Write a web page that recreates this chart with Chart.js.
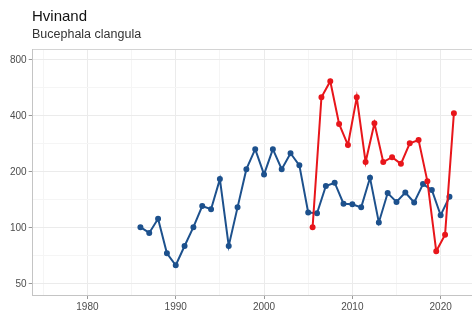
<!DOCTYPE html>
<html>
<head>
<meta charset="utf-8">
<script src="https://cdn.jsdelivr.net/npm/chart.js@4"></script>
<style>
  html, body { margin: 0; background: #fff; overflow: hidden; }
  #wrap { position: relative; width: 472px; height: 316px; overflow: hidden; font-family: "Liberation Sans", Arial, sans-serif; }
  #title { position: absolute; left: 32px; top: 8px; font-size: 15px; line-height: 15px; color: #111; }
  #subtitle { position: absolute; left: 32px; top: 28px; font-size: 12.5px; line-height: 12.5px; color: #333; }
  canvas { position: absolute; left: 0; top: 0; }
</style>
</head>
<body>
<div id="wrap">
  <!-- canvas a bit wider than the window so the panel runs off the right edge like the source -->
  <canvas id="birdChart" width="478" height="316"></canvas>
  <div id="title">Hvinand</div>
  <div id="subtitle">Bucephala clangula</div>
</div>
<script>
// counts per year (blue series)
const blueYears = [1986, 1987, 1988, 1989, 1990, 1991, 1992, 1993, 1994, 1995, 1996, 1997,
  1998, 1999, 2000, 2001, 2002, 2003, 2004, 2005, 2006, 2007, 2008, 2009, 2010, 2011,
  2012, 2013, 2014, 2015, 2016, 2017, 2018, 2019, 2020, 2021];
const blueValues = [101, 94, 112, 73, 63, 80, 101, 131, 126, 183, 80, 129,
  207, 265, 194, 265, 207, 252, 217, 121, 120, 168, 175, 135, 134, 129,
  186, 107, 154, 138, 155, 137, 172, 160, 117, 147];

// red series sits between the years (season counts)
const redYears = [2005.5, 2006.5, 2007.5, 2008.5, 2009.5, 2010.5, 2011.5, 2012.5, 2013.5,
  2014.5, 2015.5, 2016.5, 2017.5, 2018.5, 2019.5, 2020.5, 2021.5];
const redValues = [101, 504, 615, 362, 279, 504, 226, 365, 226,
  240, 221, 285, 297, 178, 75, 92, 414];

const yTickLabels = [50, 100, 200, 400, 800];
const xTickLabels = [1980, 1990, 2000, 2010, 2020];

const blue = '#1d518d';
const red = '#e8161b';

const xMin = 1973.8;
const xMax = 2023.55;

function toPoints(xs, ys) {
  return xs.map((x, i) => ({ x: x, y: ys[i] }));
}

// minor breaks halfway between the major ones
const yTicksAll = [];
yTickLabels.forEach((v, i) => {
  yTicksAll.push({ value: v, major: true });
  if (i < yTickLabels.length - 1) yTicksAll.push({ value: v * Math.SQRT2, major: false });
});
const xTicksAll = [];
xTickLabels.forEach(v => {
  xTicksAll.push({ value: v - 5, major: false });
  xTicksAll.push({ value: v, major: true });
});

const gridColor = c => (c.tick && c.tick.major) ? '#ebebeb' : '#f5f5f5';
const tickColor = c => (c.tick && c.tick.major) ? '#999' : 'rgba(0,0,0,0)';

const ctx = document.getElementById('birdChart').getContext('2d');
const myChart = new Chart(ctx, {
  type: 'line',
  data: {
    datasets: [{
      label: 'red',
      data: toPoints(redYears, redValues),
      borderColor: red,
      backgroundColor: red,
      borderWidth: 2,
      pointRadius: 2,
      tension: 0
    }, {
      label: 'blue',
      data: toPoints(blueYears, blueValues),
      borderColor: blue,
      backgroundColor: blue,
      borderWidth: 2,
      pointRadius: 2,
      tension: 0
    }]
  },
  options: {
    responsive: false,
    animation: false,
    layout: { padding: { top: 49, left: 8, right: 0, bottom: 1 } },
    plugins: {
      legend: { display: false },
      tooltip: { enabled: false }
    },
    scales: {
      x: {
        type: 'linear',
        min: xMin,
        max: xMax,
        afterBuildTicks: scale => { scale.ticks = xTicksAll.map(t => ({ value: t.value, major: t.major })); },
        ticks: {
          autoSkip: false,
          maxRotation: 0,
          padding: 2,
          color: '#4d4d4d',
          font: { family: 'Liberation Sans, Arial', size: 10 },
          callback: (v) => xTickLabels.includes(v) ? String(v) : ''
        },
        grid: { color: gridColor, tickColor: tickColor, tickLength: 4 },
        border: { color: '#c4c4c4', width: 1 }
      },
      xTop: {
        type: 'linear',
        position: 'top',
        min: xMin,
        max: xMax,
        afterBuildTicks: scale => { scale.ticks = []; },
        ticks: { display: false },
        grid: { display: false, drawTicks: false },
        border: { display: true, color: '#d4d4d4', width: 1 }
      },
      y: {
        type: 'logarithmic',
        min: 43.6,
        max: 916,
        afterBuildTicks: scale => { scale.ticks = yTicksAll.map(t => ({ value: t.value, major: t.major })); },
        ticks: {
          autoSkip: false,
          padding: 2,
          color: '#4d4d4d',
          font: { family: 'Liberation Sans, Arial', size: 10 },
          callback: (v) => yTickLabels.includes(v) ? String(v) : ''
        },
        grid: { color: gridColor, tickColor: tickColor, tickLength: 4 },
        border: { color: '#c4c4c4', width: 1 }
      }
    }
  }
});
</script>
</body>
</html>
